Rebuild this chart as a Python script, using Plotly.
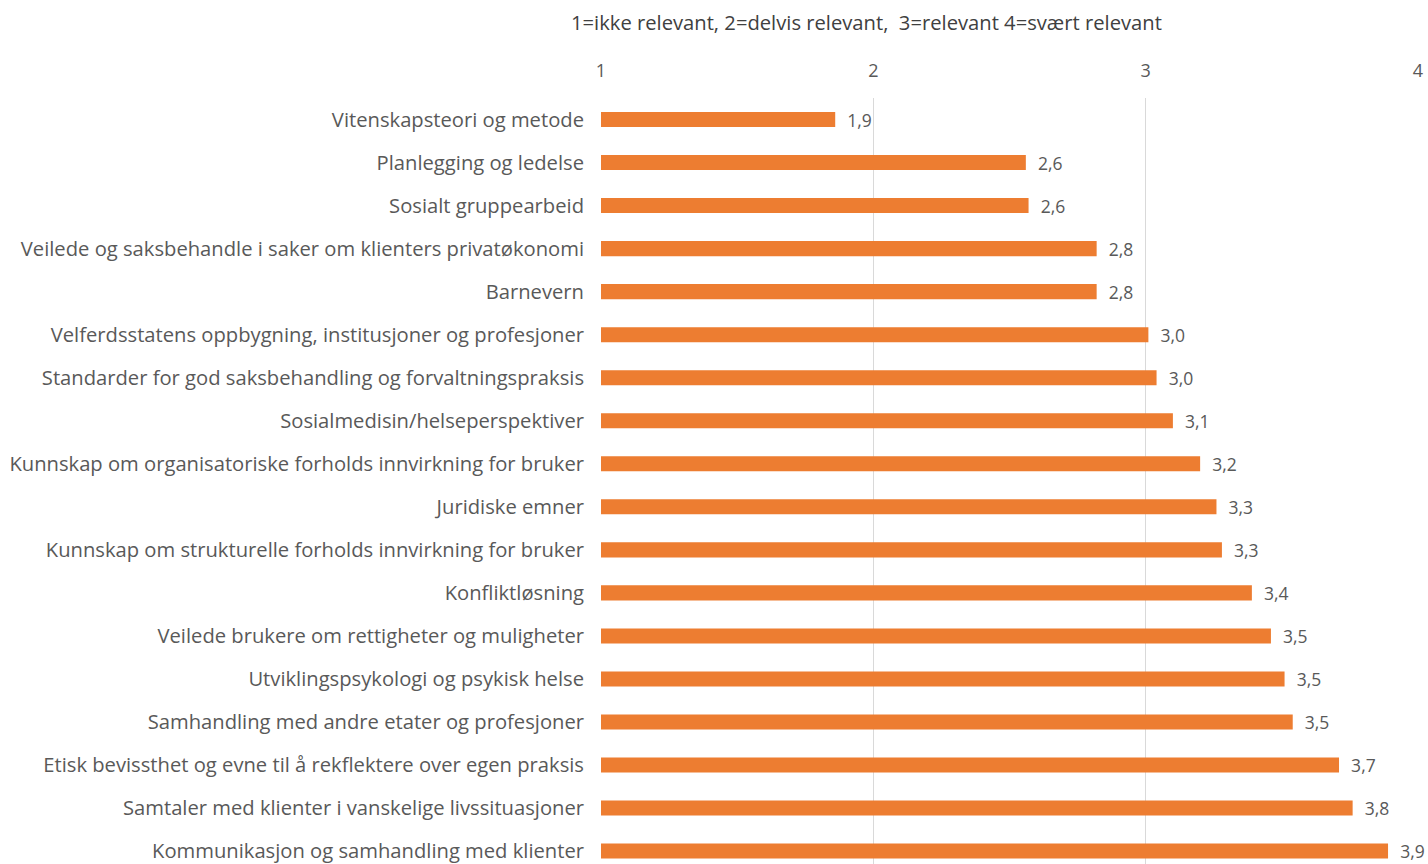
import plotly.graph_objects as go

categories = [
    "Vitenskapsteori og metode",
    "Planlegging og ledelse",
    "Sosialt gruppearbeid",
    "Veilede og saksbehandle i saker om klienters privatøkonomi",
    "Barnevern",
    "Velferdsstatens oppbygning, institusjoner og profesjoner",
    "Standarder for god saksbehandling og forvaltningspraksis",
    "Sosialmedisin/helseperspektiver",
    "Kunnskap om organisatoriske forholds innvirkning for bruker",
    "Juridiske emner",
    "Kunnskap om strukturelle forholds innvirkning for bruker",
    "Konfliktløsning",
    "Veilede brukere om rettigheter og muligheter",
    "Utviklingspsykologi og psykisk helse",
    "Samhandling med andre etater og profesjoner",
    "Etisk bevissthet og evne til å rekflektere over egen praksis",
    "Samtaler med klienter i vanskelige livssituasjoner",
    "Kommunikasjon og samhandling med klienter",
]
values = [1.86, 2.56, 2.57, 2.82, 2.82, 3.01, 3.04, 3.10, 3.20, 3.26, 3.28,
          3.39, 3.46, 3.51, 3.54, 3.71, 3.76, 3.89]
tick_vals = [1, 2, 3, 4]
title_text = "1=ikke relevant, 2=delvis relevant,  3=relevant 4=svært relevant"

FONT = "Open Sans"
GREY = "#595959"

fig = go.Figure(go.Bar(
    x=values,
    y=categories,
    orientation="h",
    marker=dict(color="#ED7D31", line=dict(width=0)),
    width=0.35,
    text=["\u00a0\u00a0" + f"{round(v, 1):.1f}".replace(".", ",") for v in values],
    textposition="outside",
    constraintext="none",
    textfont=dict(family=FONT, size=17.5, color=GREY),
    cliponaxis=False,
    hoverinfo="skip",
))

fig.update_layout(
    width=1428, height=864,
    margin=dict(l=601, r=10, t=98, b=0),
    paper_bgcolor="white", plot_bgcolor="white",
    showlegend=False,
    separators=",.",
    font=dict(family=FONT, color=GREY),
    xaxis=dict(
        side="top", range=[1, 4], tickvals=tick_vals,
        showgrid=True, gridcolor="#D9D9D9", gridwidth=1,
        zeroline=False, showline=False, ticks="",
        tickfont=dict(family=FONT, size=18, color=GREY),
        ticklabelstandoff=16, ticklabeloverflow="allow",
    ),
    yaxis=dict(
        range=[17.3, -0.5], showgrid=False, showline=False, ticks="",
        tickfont=dict(family=FONT, size=20.2, color=GREY),
        ticklabelstandoff=16,
    ),
    annotations=[dict(
        text=title_text, xref="paper", yref="paper", x=(866 - 601) / 817,
        y=1, yshift=76, showarrow=False, xanchor="center", yanchor="middle",
        font=dict(family=FONT, size=20.2, color="#404040"),
    )],
)

fig.write_html(
    "out.html",
    config={"displayModeBar": False},
    post_script="document.body.style.margin='0';document.body.style.overflow='hidden';",
)
